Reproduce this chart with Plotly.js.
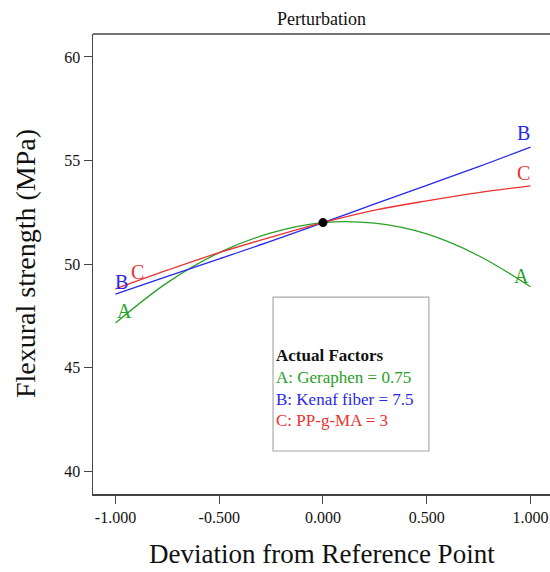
<!DOCTYPE html>
<html><head><meta charset="utf-8">
<script src="https://cdn.plot.ly/plotly-3.0.1.min.js"></script>
<style>body{margin:0;padding:0;background:#fff}#chart{width:550px;height:572px}</style>
</head><body><div id="chart"></div>
<script>
const deviation = [-1, -0.75, -0.5, -0.25, 0, 0.25, 0.5, 0.75, 1];
const seriesA = [47.15, 49.1, 50.55, 51.5, 52.0, 51.97, 51.45, 50.4, 48.9];
const seriesB = [48.55, 49.4, 50.25, 51.1, 52.0, 52.9, 53.8, 54.7, 55.65];
const seriesC = [48.8, 49.7, 50.55, 51.3, 52.0, 52.6, 53.05, 53.45, 53.77];
const refX = [0];
const refY = [52.0];
const factorLines = ["Actual Factors", "A: Geraphen = 0.75", "B: Kenaf fiber = 7.5", "C: PP-g-MA = 3"];
const yTicks = [40, 45, 50, 55, 60];
const xTicks = [-1, -0.5, 0, 0.5, 1];
const xTickText = ["-1.000", "-0.500", "0.000", "0.500", "1.000"];

const green = 'rgb(40,160,40)', blue = 'rgb(40,40,235)', red = 'rgb(235,50,50)';
const font = 'Liberation Serif, Times New Roman, serif';

const mk = (y, c) => ({x: deviation, y: y, type: 'scatter', mode: 'lines',
  line: {color: c, width: 1.3, shape: 'spline'}, hoverinfo: 'skip'});

const data = [mk(seriesA, green), mk(seriesB, blue), mk(seriesC, red),
  {x: refX, y: refY, type: 'scatter', mode: 'markers', marker: {color: 'black', size: 9}}];

const lbl = (t, x, y, c) => ({text: t, x: x, y: y, xref: 'x', yref: 'y', showarrow: false,
  font: {family: font, size: 20, color: c}, xanchor: 'center', yanchor: 'middle'});

const annotations = [
  lbl('A', -0.959, 47.73, green), lbl('B', -0.969, 49.13, blue), lbl('C', -0.896, 49.61, red),
  lbl('B', 0.964, 56.33, blue), lbl('C', 0.964, 54.40, red), lbl('A', 0.959, 49.42, green),
  {text: 'Deviation from Reference Point', xref: 'paper', yref: 'paper', x: 0.5, y: 0,
   yanchor: 'middle', yshift: -60, showarrow: false, font: {family: font, size: 27, color: '#111'}},
  {text: 'Flexural strength (MPa)', xref: 'paper', yref: 'paper', x: 0, y: 0.5,
   xanchor: 'center', xshift: -68, textangle: -90, showarrow: false, font: {family: font, size: 28, color: '#111'}}
];
const legColors = ['#111', green, blue, red];
const legY = [0.302, 0.254, 0.2065, 0.1587];
factorLines.forEach((t, i) => annotations.push({
  text: i === 0 ? '<b>' + t + '</b>' : t, xref: 'paper', yref: 'paper', x: 0.396, y: legY[i],
  xanchor: 'left', yanchor: 'middle', showarrow: false, font: {family: font, size: 17, color: legColors[i]}
}));

const layout = {
  width: 550, height: 572, margin: {l: 93, r: 0, t: 34, b: 78},
  paper_bgcolor: 'white', plot_bgcolor: 'white', showlegend: false,
  title: {text: 'Perturbation', x: 0.5, xref: 'paper', y: 1 - 19 / 572, yref: 'container',
    xanchor: 'center', yanchor: 'middle', font: {family: font, size: 18, color: '#111'}},
  xaxis: {range: [-1.1084, 1.094], tickvals: xTicks, ticktext: xTickText, ticks: 'outside', ticklen: 8,
    tickcolor: '#444', showgrid: false, zeroline: false, showline: true, linecolor: '#444', linewidth: 1.5,
    tickfont: {family: font, size: 16, color: '#111'}},
  yaxis: {range: [38.89, 61.11], tickvals: yTicks, ticks: 'outside', ticklen: 8,
    tickcolor: '#444', showgrid: false, zeroline: false, showline: true, linecolor: '#444', linewidth: 1.5,
    tickfont: {family: font, size: 16, color: '#111'}},
  shapes: [
    {type: 'line', xref: 'paper', yref: 'paper', x0: 0, x1: 1, y0: 1, y1: 1, line: {color: '#444', width: 1.5}},
    {type: 'rect', xref: 'paper', yref: 'paper', x0: 0.394, x1: 0.735, y0: 0.0935, y1: 0.428,
     line: {color: '#aaa', width: 1.2}}
  ],
  annotations: annotations
};
Plotly.newPlot('chart', data, layout, {displayModeBar: false, staticPlot: true});
</script></body></html>
